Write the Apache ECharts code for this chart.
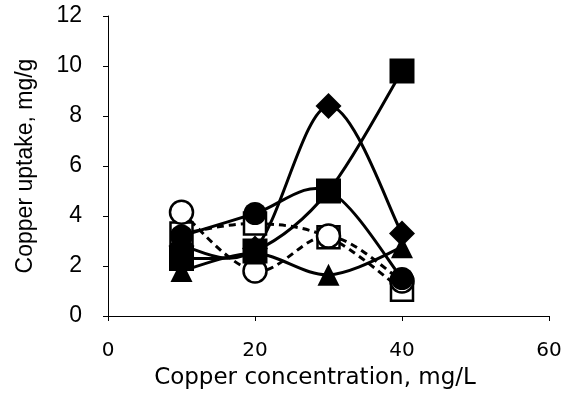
<!DOCTYPE html>
<html>
<head>
<meta charset="utf-8">
<script src="https://cdn.jsdelivr.net/npm/echarts@6/dist/echarts.min.js"></script>
<style>html,body{margin:0;padding:0;background:#fff}#c{width:568px;height:400px}</style>
</head>
<body>
<div id="c"></div>
<script>
const xValues = [10, 20, 30, 40];
const filledSquare = [2.3, 2.6, 5.0, 9.8];
const filledDiamond = [2.8, 2.7, 8.4, 3.3];
const filledCircle = [3.2, 4.1, 5.0, 1.5];
const filledTriangle = [1.8, 2.5, 1.65, 2.75];
const openCircle = [4.15, 1.8, 3.2, 1.4];
const openSquare = [3.3, 3.7, 3.15, 1.05];
const xTicks = [0, 20, 40, 60];
const yTicks = [0, 2, 4, 6, 8, 10, 12];

const defs = [
  { name: 'open square', values: openSquare, symbol: 'rect', size: 22, open: true, dashed: true },
  { name: 'open circle', values: openCircle, symbol: 'circle', size: 23, open: true, dashed: true },
  { name: 'triangle', values: filledTriangle, symbol: 'triangle', size: 22, open: false, dashed: false },
  { name: 'diamond', values: filledDiamond, symbol: 'diamond', size: 26, open: false, dashed: false },
  { name: 'circle', values: filledCircle, symbol: 'circle', size: 23, open: false, dashed: false },
  { name: 'square', values: filledSquare, symbol: 'rect', size: 25, open: false, dashed: false }
];

function pts(arr) { return xValues.map((x, i) => [x, arr[i]]); }

function curveSeries(d) {
  const n = xValues.length;
  const cl = k => Math.max(0, Math.min(n - 1, k));
  return {
    type: 'custom', name: d.name + ' line', data: pts(d.values), encode: { x: 0, y: 1 },
    z: 1, silent: true, animation: false,
    renderItem: function (params, api) {
      const i = params.dataIndex;
      if (i >= n - 1) return null;
      const P = k => api.coord([xValues[cl(k)], d.values[cl(k)]]);
      const p0 = P(i - 1), p1 = P(i), p2 = P(i + 1), p3 = P(i + 2);
      const t = 1 / 6;
      return {
        type: 'bezierCurve',
        shape: {
          x1: p1[0], y1: p1[1], x2: p2[0], y2: p2[1],
          cpx1: p1[0] + (p2[0] - p0[0]) * t, cpy1: p1[1] + (p2[1] - p0[1]) * t,
          cpx2: p2[0] - (p3[0] - p1[0]) * t, cpy2: p2[1] - (p3[1] - p1[1]) * t
        },
        style: { stroke: '#000', lineWidth: 3, fill: null, lineDash: d.dashed ? [7, 5] : null }
      };
    }
  };
}

function markerSeries(d) {
  return {
    type: 'scatter', name: d.name, data: pts(d.values), z: 3,
    symbol: d.symbol, symbolSize: d.size, animation: false,
    itemStyle: d.open ? { color: '#fff', borderColor: '#000', borderWidth: 2.5, opacity: 1 }
                      : { color: '#000', borderColor: '#000', borderWidth: 0, opacity: 1 },
    emphasis: { disabled: true }
  };
}

const chart = echarts.init(document.getElementById('c'), null, { renderer: 'canvas' });
chart.setOption({
  backgroundColor: '#fff',
  animation: false,
  grid: { left: 108, right: 19, top: 16, bottom: 84, containLabel: false },
  xAxis: {
    type: 'value', min: xTicks[0], max: xTicks[xTicks.length - 1], interval: 20,
    name: 'Copper concentration, mg/L', nameLocation: 'middle', nameGap: 51,
    nameTextStyle: { fontFamily: 'DejaVu Sans', fontSize: 23, color: '#000', padding: [0, 27, 0, 0] },
    axisLine: { lineStyle: { color: '#000', width: 1 } },
    axisTick: { show: true, inside: false, length: 5, lineStyle: { color: '#000' } },
    axisLabel: { fontFamily: 'DejaVu Sans', fontSize: 20, color: '#000', margin: 25 },
    splitLine: { show: false }
  },
  yAxis: {
    type: 'value', min: yTicks[0], max: yTicks[yTicks.length - 1], interval: 2,
    name: 'Copper uptake, mg/g', nameLocation: 'middle', nameGap: 71,
    nameTextStyle: { fontFamily: 'Liberation Sans', fontSize: 23, color: '#000' },
    axisLine: { show: true, lineStyle: { color: '#000', width: 1 } },
    axisTick: { show: true, inside: false, length: 5, lineStyle: { color: '#000' } },
    axisLabel: { fontFamily: 'Liberation Sans', fontSize: 23, color: '#000', margin: 26 },
    splitLine: { show: false }
  },
  series: defs.map(curveSeries).concat(defs.map(markerSeries))
});
</script>
</body>
</html>
